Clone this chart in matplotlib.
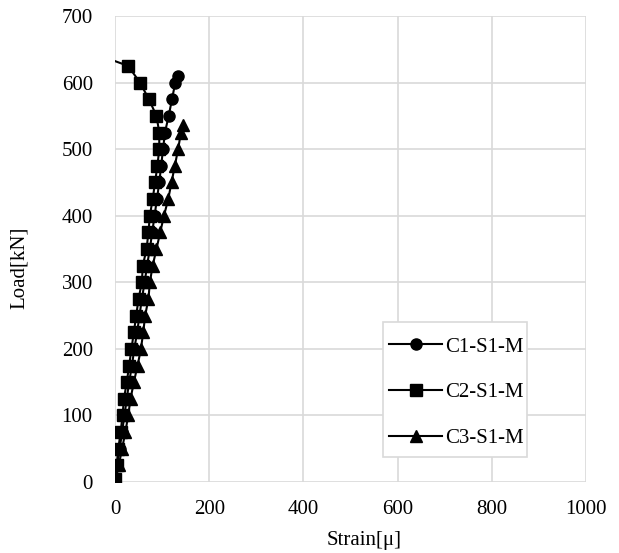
import matplotlib
matplotlib.use("Agg")
import matplotlib.pyplot as plt
from matplotlib.patches import Rectangle

plt.rcParams['font.family'] = ['Liberation Serif', 'DejaVu Serif']

# C1-S1-M
c1_load = [5, 25, 50, 75, 100, 125, 150, 175, 200, 225, 250, 275, 300, 325, 350, 375, 400,
           425, 450, 475, 500, 525, 550, 575, 600, 610]
c1_strain = [1, 5, 10, 15, 20, 25, 30, 36, 41, 47, 52, 57, 63, 68, 74, 79, 84,
             89, 94, 98, 102, 106, 114, 121, 128, 134]

# C2-S1-M
c2_load = [5, 25, 50, 75, 100, 125, 150, 175, 200, 225, 250, 275, 300, 325, 350, 375, 400,
           425, 450, 475, 500, 525, 550, 575, 600, 625, 640]
c2_strain = [0, 3.5, 7, 12, 16, 19, 25, 30, 35, 40, 45, 50, 57, 59, 67, 71, 74,
             80, 85, 90, 94, 94, 88, 72, 53, 28, -30]

# C3-S1-M
c3_load = [5, 25, 50, 75, 100, 125, 150, 175, 200, 225, 250, 275, 300, 325, 350, 375, 400,
           425, 450, 475, 500, 525, 537]
c3_strain = [2, 8, 15, 22, 28, 33, 40, 48, 55, 60, 64, 71, 74, 80, 88, 96, 104,
             113, 120, 127, 134, 140, 145]

x_ticks = [0, 200, 400, 600, 800, 1000]
y_ticks = [0, 100, 200, 300, 400, 500, 600, 700]

W, H = 619, 553
fig = plt.figure(figsize=(W / 100, H / 100), dpi=100)
ax = fig.add_axes([115 / W, (H - 482) / H, 471 / W, 466 / H])

kw = dict(color='black', lw=1.5, markersize=8, clip_on=True)
ax.plot(c1_strain, c1_load, marker='o', label='C1-S1-M', **kw)
ax.plot(c2_strain, c2_load, marker='s', label='C2-S1-M', **kw)
ax.plot(c3_strain, c3_load, marker='^', label='C3-S1-M', **kw)

ax.set_xlim(0, 1000)
ax.set_ylim(0, 700)
ax.set_xticks(x_ticks)
ax.set_yticks(y_ticks)
ax.grid(True, color='#d9d9d9', lw=1.2)
ax.set_axisbelow(True)
for s in ax.spines.values():
    s.set_visible(False)
ax.tick_params(axis='both', length=0, labelsize=15)
ax.tick_params(axis='y', pad=16)
ax.tick_params(axis='x', pad=13)

fig.text(364 / W, 1 - 541 / H, 'Strain[μ]', fontsize=15, ha='center', va='center')
fig.text(19 / W, 1 - 268 / H, 'Load[kN]', fontsize=15, ha='center', va='center',
         rotation=90)

# legend frame
frame = Rectangle((0.569, 0.0536), 0.306, 0.2894, transform=ax.transAxes,
                  facecolor='white', edgecolor='#d9d9d9', lw=1.2, zorder=4)
ax.add_patch(frame)

leg = ax.legend(loc='upper left', bbox_to_anchor=(0.582, 0.311), frameon=False,
                fontsize=15, labelspacing=1.25, handlelength=2.55, handletextpad=0.15,
                borderaxespad=0, borderpad=0)
leg.set_zorder(5)

fig.savefig('out.png', dpi=100, facecolor='white')
